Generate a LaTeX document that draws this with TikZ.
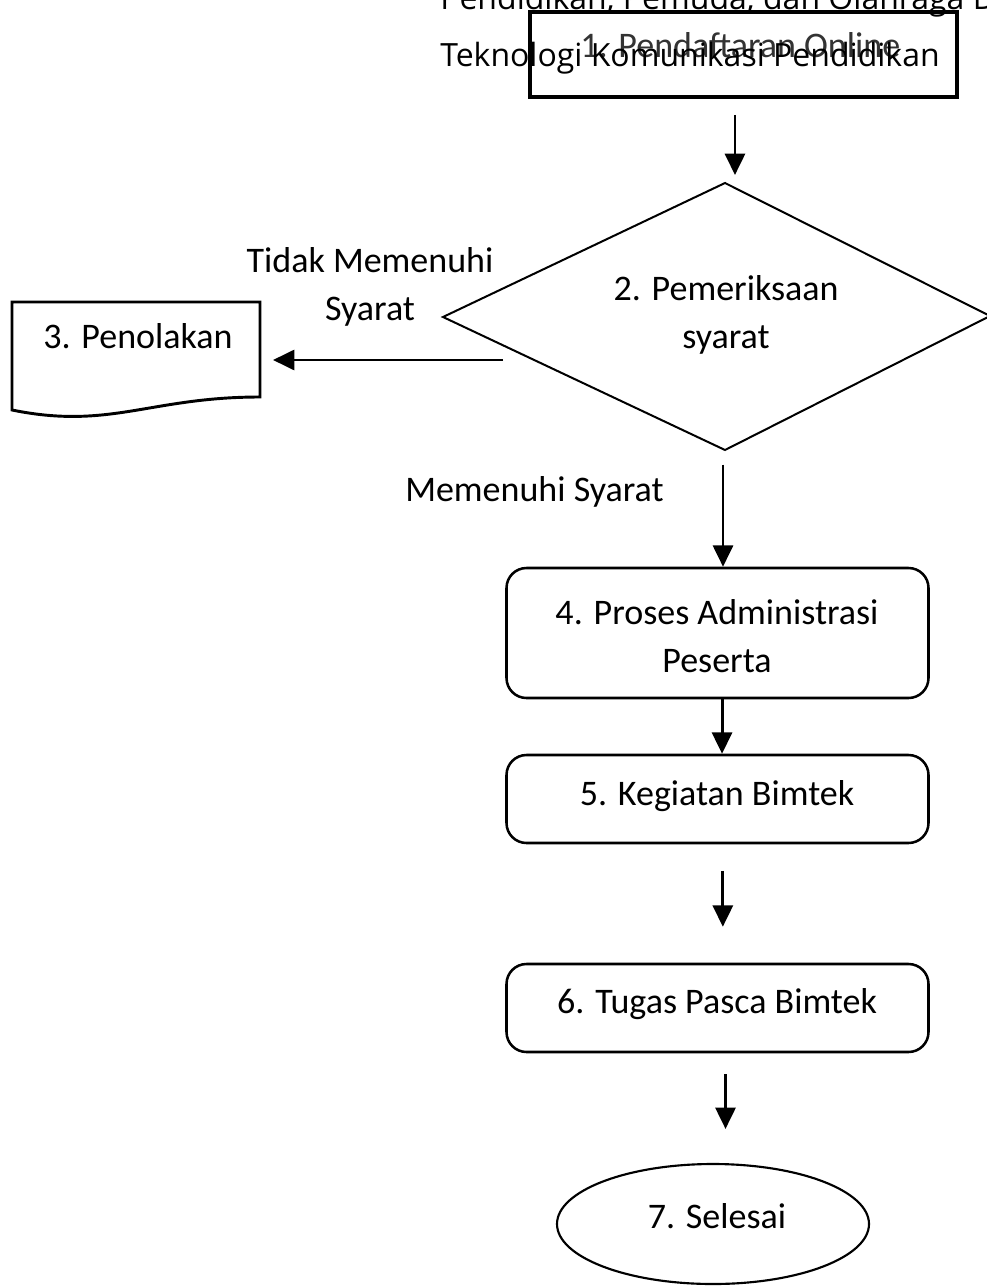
\documentclass[tikz,border=0pt]{standalone}
\usepackage{fontspec}
\setmainfont{Carlito}
\newfontfamily\opensans{Open Sans}
\usetikzlibrary{arrows.meta,shapes.geometric}
\begin{document}
\begin{tikzpicture}[x=0.75pt,y=-0.75pt,
  lbl/.style={font=\fontsize{27}{36}\selectfont, inner sep=0pt, align=center},
  toptxt/.style={font=\opensans\fontsize{24}{30}\selectfont, inner sep=0pt, anchor=base west},
  arr/.style={line width=2.2pt, -{Triangle[length=16pt,width=15pt]}},
  boxr/.style={draw, line width=1.9pt, rounded corners=15pt, minimum width=316.5pt, inner sep=0pt},
  boxs/.style={draw, line width=3pt, minimum width=320.25pt, minimum height=63.75pt, inner sep=0pt},
  diaedge/.style={line width=1.5pt, line join=miter},
  docedge/.style={line width=2.2pt},
  term/.style={draw, ellipse, line width=1.6pt, minimum width=234pt, minimum height=90pt, inner sep=0pt}]
\useasboundingbox (0,0) rectangle (987,1287);
\fill[white] (0,0) rectangle (987,1287);

% box 1
\node[boxs] (b1) at (743.5,54.5) {};
\node[lbl, anchor=base west, text=black!80] (t1) at (580,58) {1. Pendaftaran Online};
\node[toptxt] (hdr1) at (440,10) {Pendidikan, Pemuda, dan Olahraga D};
\node[toptxt] (hdr2) at (440,67) {Teknologi Komunikasi Pendidikan};

% diamond
\coordinate (diaT) at (725,183);
\coordinate (diaL) at (443,317);
\coordinate (diaR) at (990,316);
\coordinate (diaB) at (725,450);
\draw[diaedge] (diaL) -- (diaT) -- (diaR) -- (diaB) -- cycle;
\node[lbl] (dia) at (726,315) {2. Pemeriksaan\\syarat};

% document 3
\coordinate (docNW) at (12,302);
\coordinate (docSE) at (260,397);
\draw[docedge] (docNW) -- (docNW -| docSE) -- (docSE) .. controls (150,397) and (110,430) .. (12,410) -- cycle;
\node[lbl, anchor=base west] (b3) at (43,348) {3. Penolakan};

% labels
\node[lbl] (no) at (370,287) {Tidak Memenuhi\\Syarat};
\node[lbl, anchor=base west] (yes) at (405,501) {Memenuhi Syarat};

% boxes
\node[boxr, minimum height=97.5pt] (b4) at (717.5,633) {};
\node[lbl] (t4) at (717,636) {4. Proses Administrasi\\Peserta};
\node[boxr, minimum height=66pt] (b5) at (717.5,799) {};
\node[lbl, anchor=base] (t5) at (717,805) {5. Kegiatan Bimtek};
\node[boxr, minimum height=66pt] (b6) at (717.5,1008) {};
\node[lbl, anchor=base] (t6) at (717,1013) {6. Tugas Pasca Bimtek};
\node[term] (b7) at (713,1224) {};
\node[lbl, anchor=base] (t7) at (717,1228) {7. Selesai};

% connectors
\draw[arr, shorten <=12pt, shorten >=6pt] ([xshift=-6.4pt]b1.south) -- ([xshift=-6.4pt]b1.south |- diaT);
\coordinate (dL) at (503,360);
\draw[arr, shorten >=9.75pt] (dL) -- (dL -| docSE);
\draw[arr, shorten <=11pt] ([xshift=-1.5pt]diaB) -- ([xshift=-1.5pt]diaB |- b4.north);
\draw[arr] ([xshift=3.4pt]b4.south) -- ([xshift=3.4pt]b5.north);
\draw[arr, shorten <=20pt, shorten >=27pt] ([xshift=4pt]b5.south) -- ([xshift=4pt]b6.north);
\draw[arr, shorten <=15.75pt, shorten >=25.5pt] ([xshift=6pt]b6.south) -- ([xshift=6pt]b6.south |- b7.north);
\end{tikzpicture}
\end{document}
